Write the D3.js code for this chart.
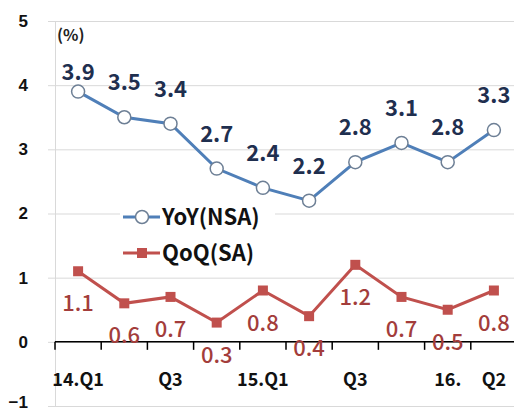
<!DOCTYPE html>
<html>
<head>
<meta charset="utf-8">
<script src="https://cdn.jsdelivr.net/npm/d3@7"></script>
<style>
  body { margin: 0; background: #fff; }
  svg { display: block; font-family: "Noto Sans CJK KR", "Noto Sans", sans-serif; }
</style>
</head>
<body>
<script>
const categories = ["14.Q1", "14.Q2", "14.Q3", "14.Q4", "15.Q1", "15.Q2", "15.Q3", "15.Q4", "16.Q1", "16.Q2"];
const tickLabels = ["14.Q1", "", "Q3", "", "15.Q1", "", "Q3", "", "16.", "Q2"];
const yoy = [3.9, 3.5, 3.4, 2.7, 2.4, 2.2, 2.8, 3.1, 2.8, 3.3];
const qoq = [1.1, 0.6, 0.7, 0.3, 0.8, 0.4, 1.2, 0.7, 0.5, 0.8];
const yTicks = [-1, 0, 1, 2, 3, 4, 5];
const seriesNames = ["YoY(NSA)", "QoQ(SA)"];

const width = 514, height = 415;
const blue = "#4f7fb8", red = "#c0504d";

const svg = d3.select("body").append("svg")
    .attr("width", width)
    .attr("height", height);

const x = d3.scaleBand().domain(categories).range([55, 517]);
const y = d3.scaleLinear().domain([-1, 5]).range([406, 21]);
const cx = d => x(d) + x.bandwidth() / 2;

// gridlines + y labels
const yAxis = svg.append("g")
    .attr("transform", "translate(48,0)")
    .call(d3.axisLeft(y).tickValues(yTicks).tickSize(-466).tickPadding(20).tickFormat(d3.format("d")));
yAxis.select(".domain").remove();
yAxis.selectAll(".tick line").attr("stroke", "#d9d9d9").attr("stroke-width", 1);
yAxis.selectAll(".tick text")
    .attr("fill", "#111")
    .attr("font-size", 17)
    .attr("font-weight", "bold")
    .attr("dy", d => d === -1 ? "0.1em" : "0.32em");

// left vertical line
svg.append("line")
    .attr("x1", 55.5).attr("x2", 55.5)
    .attr("y1", y(5)).attr("y2", y(-1))
    .attr("stroke", "#d9d9d9");

// x axis at zero
const xAxis = svg.append("g")
    .attr("transform", `translate(0,${y(0)})`);
xAxis.append("line")
    .attr("x1", 55).attr("x2", width)
    .attr("stroke", "#000").attr("stroke-width", 1.5);
xAxis.selectAll(".tk")
    .data(categories.concat(["end"]))
    .enter().append("line")
    .attr("class", "tk")
    .attr("x1", (d, i) => i < categories.length ? x(d) : x.range()[1])
    .attr("x2", (d, i) => i < categories.length ? x(d) : x.range()[1])
    .attr("y1", 0).attr("y2", 8)
    .attr("stroke", "#000").attr("stroke-width", 1.5);
xAxis.selectAll(".lbl")
    .data(categories)
    .enter().append("text")
    .attr("x", d => cx(d))
    .attr("y", 44)
    .attr("text-anchor", "middle")
    .attr("font-size", 18)
    .attr("font-weight", "bold")
    .attr("fill", "#111")
    .text((d, i) => tickLabels[i]);

// unit
svg.append("text")
    .attr("x", 57).attr("y", 41)
    .attr("font-size", 16)
    .attr("font-weight", "bold")
    .attr("fill", "#222")
    .text("(%)");

const line = d3.line().x((d, i) => cx(categories[i])).y(d => y(d));

// QoQ
svg.append("path")
    .datum(qoq)
    .attr("d", line)
    .attr("fill", "none")
    .attr("stroke", red)
    .attr("stroke-width", 3);
svg.selectAll(".qm")
    .data(qoq)
    .enter().append("rect")
    .attr("x", (d, i) => cx(categories[i]) - 5)
    .attr("y", d => y(d) - 5)
    .attr("width", 10).attr("height", 10)
    .attr("fill", red);
svg.selectAll(".ql")
    .data(qoq)
    .enter().append("text")
    .attr("x", (d, i) => cx(categories[i]))
    .attr("y", d => y(d) + 32 + 8)
    .attr("text-anchor", "middle")
    .attr("font-size", 22)
    .attr("font-weight", 500)
    .attr("fill", "#a33d3b")
    .text(d => d.toFixed(1));

// YoY
svg.append("path")
    .datum(yoy)
    .attr("d", line)
    .attr("fill", "none")
    .attr("stroke", blue)
    .attr("stroke-width", 3);
svg.selectAll(".ym")
    .data(yoy)
    .enter().append("circle")
    .attr("cx", (d, i) => cx(categories[i]))
    .attr("cy", d => y(d))
    .attr("r", 6.5)
    .attr("fill", "#fff")
    .attr("stroke", "#6d7f95")
    .attr("stroke-width", 1.5);
svg.selectAll(".yl")
    .data(yoy)
    .enter().append("text")
    .attr("x", (d, i) => cx(categories[i]))
    .attr("y", d => Math.max(y(d) - 35, 72) + 8)
    .attr("text-anchor", "middle")
    .attr("font-size", 22)
    .attr("font-weight", "bold")
    .attr("fill", "#1f2f4f")
    .text(d => d.toFixed(1));

// legend
const legend = svg.append("g");
const legendY = [217, 253];
legend.append("rect")
    .attr("x", 120).attr("y", 200)
    .attr("width", 155).attr("height", 68)
    .attr("fill", "#fff");
seriesNames.forEach((name, i) => {
    const g = legend.append("g").attr("transform", `translate(0,${legendY[i]})`);
    g.append("line")
        .attr("x1", 123).attr("x2", 160)
        .attr("stroke", i === 0 ? blue : red)
        .attr("stroke-width", 3);
    if (i === 0) {
        g.append("circle").attr("cx", 142).attr("r", 6.5)
            .attr("fill", "#fff").attr("stroke", "#6d7f95").attr("stroke-width", 1.5);
    } else {
        g.append("rect").attr("x", 137).attr("y", -5).attr("width", 10).attr("height", 10)
            .attr("fill", red);
    }
    g.append("text")
        .attr("x", 162).attr("y", 8)
        .attr("font-size", 22)
        .attr("font-weight", "bold")
        .attr("fill", "#111")
        .text(name);
});
</script>
</body>
</html>
